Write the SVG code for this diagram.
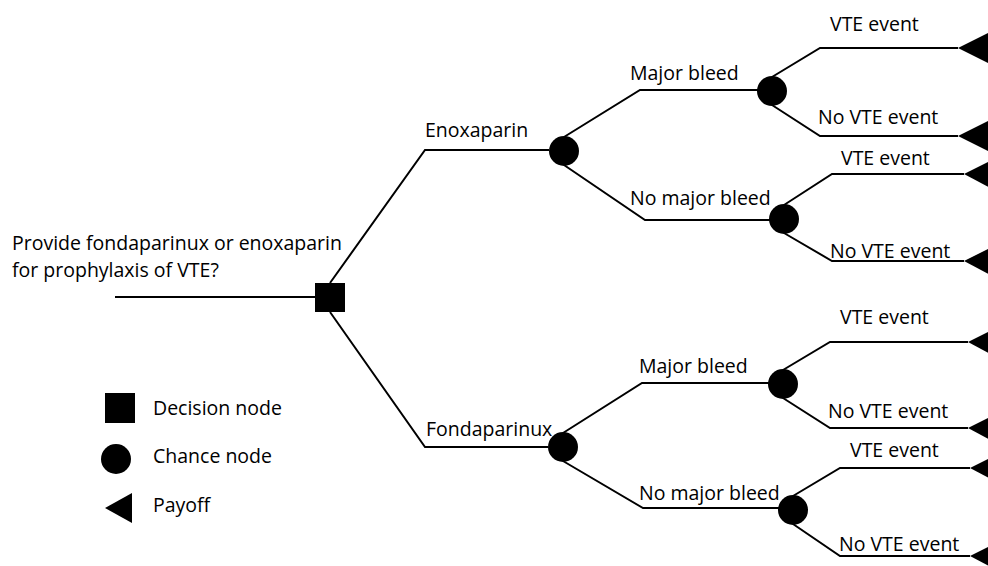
<svg xmlns="http://www.w3.org/2000/svg" width="988" height="566" viewBox="0 0 988 566">
<style>
.ln{stroke:#000;stroke-width:2;fill:none}
.t{font-family:"Open Sans","Liberation Sans",sans-serif;font-size:19.5px;fill:#000}
.f{fill:#000}
</style>
<rect width="988" height="566" fill="#fff"/>
<g id="connectors" class="ln">
<polyline points="115,297 315,297"/>
<polyline points="330,283 425,150 549,150"/>
<polyline points="330,312 425,447 548,447"/>
<polyline points="564,137 640,90 772,90"/>
<polyline points="564,165 645,220 784,220"/>
<polyline points="772,77 820,48 958,48"/>
<polyline points="772,105 820,136 958,136"/>
<polyline points="784,205 832,174 964,174"/>
<polyline points="784,233 832,261 964,261"/>
<polyline points="563,433 642,383 783,383"/>
<polyline points="563,461 643,508 793,508"/>
<polyline points="783,370 830,342 968,342"/>
<polyline points="783,398 830,428 968,428"/>
<polyline points="793,496 840,468 970,468"/>
<polyline points="793,524 840,556 970,556"/>
</g>
<g id="decision">
<rect class="f" x="315" y="283" width="30" height="29"/>
<text class="t" x="12" y="249.5">Provide fondaparinux or enoxaparin</text>
<text class="t" x="12" y="277">for prophylaxis of VTE?</text>
</g>
<g id="enox"><text class="t" x="425" y="137">Enoxaparin</text><circle class="f" cx="564" cy="151" r="15"/></g>
<g id="fonda"><text class="t" x="426" y="436">Fondaparinux</text><circle class="f" cx="563" cy="447" r="15"/></g>
<g id="enox-major"><text class="t" x="630" y="80">Major bleed</text><circle class="f" cx="772" cy="91" r="15"/></g>
<g id="enox-nomajor"><text class="t" x="630" y="205">No major bleed</text><circle class="f" cx="784" cy="219" r="15"/></g>
<g id="fonda-major"><text class="t" x="639" y="373">Major bleed</text><circle class="f" cx="783" cy="384" r="15"/></g>
<g id="fonda-nomajor"><text class="t" x="639" y="500">No major bleed</text><circle class="f" cx="793" cy="510" r="15"/></g>
<g id="p1"><text class="t" x="830" y="31">VTE event</text><polygon class="f" points="958,48 990,32 990,64"/></g>
<g id="p2"><text class="t" x="818" y="124">No VTE event</text><polygon class="f" points="958,136 990,120 990,152"/></g>
<g id="p3"><text class="t" x="841" y="165">VTE event</text><polygon class="f" points="964,174 994,159 994,190"/></g>
<g id="p4"><text class="t" x="830" y="258">No VTE event</text><polygon class="f" points="964,261 994,246 994,277"/></g>
<g id="p5"><text class="t" x="840" y="324">VTE event</text><polygon class="f" points="968,342 998,327 998,358"/></g>
<g id="p6"><text class="t" x="828" y="418">No VTE event</text><polygon class="f" points="968,428 998,413 998,444"/></g>
<g id="p7"><text class="t" x="850" y="457">VTE event</text><polygon class="f" points="970,468 1000,453 1000,484"/></g>
<g id="p8"><text class="t" x="839" y="551">No VTE event</text><polygon class="f" points="970,556 1000,541 1000,572"/></g>
<g id="legend">
<rect class="f" x="105" y="393" width="30" height="30"/>
<text class="t" x="153" y="415">Decision node</text>
<circle class="f" cx="116" cy="459" r="15"/>
<text class="t" x="153" y="463">Chance node</text>
<polygon class="f" points="105,508 132,493 132,523"/>
<text class="t" x="153" y="512">Payoff</text>
</g>
</svg>
